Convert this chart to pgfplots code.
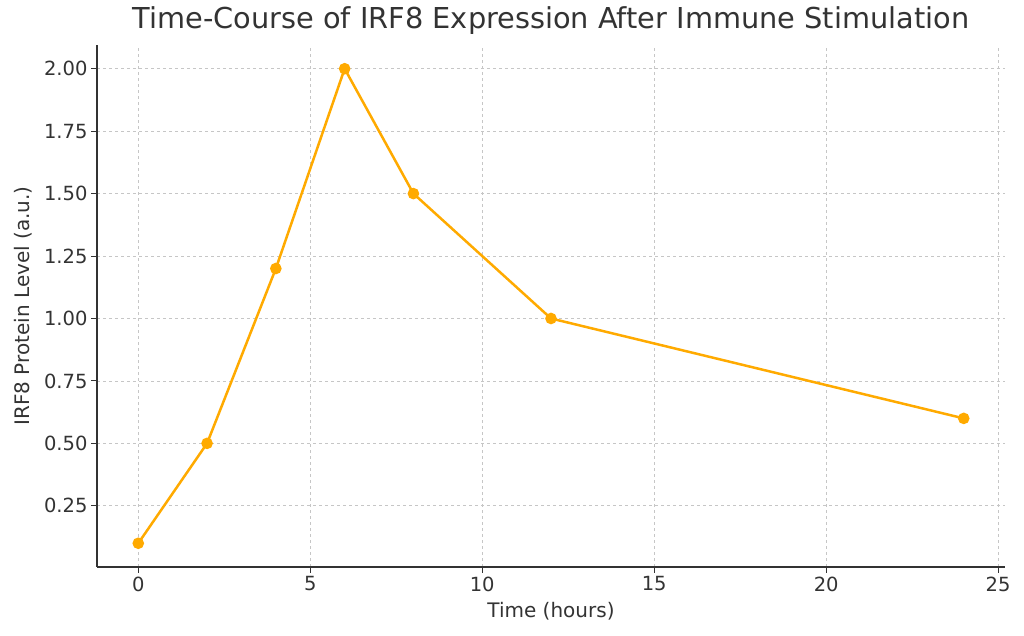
\documentclass[border=0pt]{standalone}
\usepackage{pgfplots}
\pgfplotsset{compat=1.18}
\usepackage{fontspec}
\setmainfont{DejaVu Sans}
\definecolor{txt}{HTML}{333333}
\definecolor{lineor}{HTML}{FFAA00}
\begin{document}
\begin{tikzpicture}
\path[use as bounding box] (0,0) rectangle (1024pt,636pt);
\begin{axis}[
  at={(97pt,69pt)}, anchor=south west,
  scale only axis, width=908pt, height=522pt,
  xmin=-1.2, xmax=25.2, ymin=0.005, ymax=2.095,
  axis lines*=left,
  axis line style={txt, line width=1.2pt},
  xtick={0,5,10,15,20,25},
  ytick={0.25,0.5,0.75,1,1.25,1.5,1.75,2},
  yticklabel style={/pgf/number format/.cd, fixed, fixed zerofill, precision=2},
  /pgf/number format/assume math mode=true,
  tick align=outside, tick pos=left,
  major tick length=6pt,
  tick style={txt, line width=1pt},
  ticklabel style={font=\fontsize{19.5}{22}\selectfont, text=txt},
  grid=major,
  grid style={dashed, gray!45, line width=0.8pt},
  xlabel={Time (hours)}, ylabel={IRF8 Protein Level (a.u.)},
  xlabel style={yshift=-4pt},
  ylabel style={yshift=5pt},
  label style={font=\fontsize{20}{24}\selectfont, text=txt},
  title={Time-Course of IRF8 Expression After Immune Stimulation},
  title style={font=\fontsize{28.8}{33}\selectfont, text=txt, yshift=1pt},
]
\addplot[lineor, line width=2.5pt, mark=*, mark size=4.5pt, mark options={fill=lineor, draw=lineor}] coordinates {
(0,0.1) (2,0.5) (4,1.2) (6,2.0) (8,1.5) (12,1.0) (24,0.6)
};
\end{axis}
\end{tikzpicture}
\end{document}
